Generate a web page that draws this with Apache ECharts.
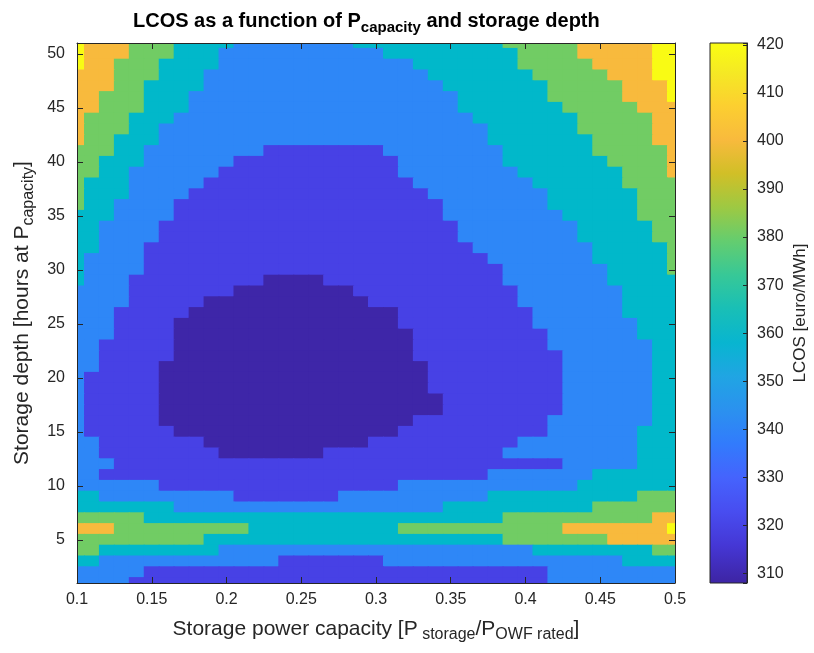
<!DOCTYPE html>
<html>
<head>
<meta charset="utf-8">
<title>LCOS as a function of Pcapacity and storage depth</title>
<script src="https://cdn.jsdelivr.net/npm/echarts@6/dist/echarts.min.js"></script>
<style>
  html, body { margin: 0; padding: 0; background: #fff; }
  #chart { width: 814px; height: 653px; }
</style>
</head>
<body>
<div id="chart"></div>
<script>
// storage power capacity [P_storage / P_OWF rated], one column each
var capacity = [0.10, 0.11, 0.12, 0.13, 0.14, 0.15, 0.16, 0.17, 0.18, 0.19, 0.20,
                0.21, 0.22, 0.23, 0.24, 0.25, 0.26, 0.27, 0.28, 0.29, 0.30,
                0.31, 0.32, 0.33, 0.34, 0.35, 0.36, 0.37, 0.38, 0.39, 0.40,
                0.41, 0.42, 0.43, 0.44, 0.45, 0.46, 0.47, 0.48, 0.49, 0.50];

// storage depth [hours at P_capacity], one row each (top row first)
var depth = [51, 50, 49, 48, 47, 46, 45, 44, 43, 42, 41, 40, 39, 38, 37, 36, 35, 34,
             33, 32, 31, 30, 29, 28, 27, 26, 25, 24, 23, 22, 21, 20, 19, 18, 17, 16,
             15, 14, 13, 12, 11, 10, 9, 8, 7, 6, 5, 4, 3, 2, 1];

// LCOS [euro/MWh] (band floor), rows follow depth
var lcos = [
  [420, 400,400,400, 380,380,380, 360,360,360,360, 340,340,340,340,340, 340,340,340, 360,360,360,360,360, 360,360,360,360,360, 380,380,380,380,380, 400,400,400,400,400, 420,420],
  [420, 400,400,400, 380,380,380, 360,360,360, 340,340,340,340,340, 340,340,340,340,340, 340, 360,360,360,360,360, 360,360,360,360, 380,380,380,380, 400,400,400,400,400, 420,420],
  [420, 400,400, 380,380,380, 360,360,360,360, 340,340,340,340,340, 340,340,340,340,340, 340,340,340, 360,360,360,360,360, 360,360, 380,380,380,380,380, 400,400,400,400, 420,420],
  [400,400,400, 380,380,380, 360,360,360, 340,340,340,340,340, 340,340,340,340,340, 340,340,340,340,340, 360,360,360,360,360, 360,360, 380,380,380,380,380, 400,400,400, 420,420],
  [400,400,400, 380,380, 360,360,360,360, 340,340,340,340,340, 340,340,340,340,340, 340,340,340,340,340, 340, 360,360,360,360,360, 360,360, 380,380,380,380,380, 400,400,400, 420],
  [400,400, 380,380,380, 360,360,360, 340,340,340,340,340, 340,340,340,340,340, 340,340,340,340,340, 340,340,340, 360,360,360,360,360, 360, 380,380,380,380,380, 400,400,400, 420],
  [400,400, 380,380,380, 360,360,360, 340,340,340,340,340, 340,340,340,340,340, 340,340,340,340,340, 340,340,340, 360,360,360,360,360, 360,360, 380,380,380,380,380, 400,400,400],
  [400, 380,380,380, 360,360,360, 340,340,340,340,340, 340,340,340,340,340, 340,340,340,340,340, 340,340,340,340,340, 360,360,360,360,360, 360,360, 380,380,380,380,380, 400,400],
  [400, 380,380,380, 360,360, 340,340,340,340,340, 340,340,340,340,340, 340,340,340,340,340, 340,340,340,340,340, 340,340, 360,360,360,360,360, 360, 380,380,380,380,380, 400,400],
  [400, 380,380, 360,360,360, 340,340,340,340,340, 340,340,340,340,340, 340,340,340,340,340, 340,340,340,340,340, 340,340, 360,360,360,360,360, 360,360, 380,380,380,380, 400,400],
  [380,380,380, 360,360, 340,340,340,340,340, 340,340,340, 320,320,320,320,320, 320,320,320, 340,340,340,340,340, 340,340,340, 360,360,360,360,360, 360, 380,380,380,380,380, 400],
  [380,380, 360,360,360, 340,340,340,340,340, 340, 320,320,320,320,320, 320,320,320,320,320, 320, 340,340,340,340,340, 340,340, 360,360,360,360,360, 360,360, 380,380,380,380, 400],
  [380,380, 360,360, 340,340,340,340,340, 340, 320,320,320,320,320, 320,320,320,320,320, 320,320, 340,340,340,340,340, 340,340,340, 360,360,360,360,360, 360,360, 380,380,380, 400],
  [380, 360,360,360, 340,340,340,340,340, 320,320,320,320,320, 320,320,320,320,320, 320,320,320,320, 340,340,340,340,340, 340,340,340, 360,360,360,360,360, 360, 380,380,380,380],
  [380, 360,360,360, 340,340,340,340, 320,320,320,320,320, 320,320,320,320,320, 320,320,320,320,320, 320, 340,340,340,340,340, 340,340,340, 360,360,360,360,360, 360, 380,380,380],
  [380, 360,360, 340,340,340,340, 320,320,320,320,320, 320,320,320,320,320, 320,320,320,320,320, 320,320,320, 340,340,340,340,340, 340,340, 360,360,360,360,360, 360, 380,380,380],
  [360,360,360, 340,340,340,340, 320,320,320,320,320, 320,320,320,320,320, 320,320,320,320,320, 320,320,320, 340,340,340,340,340, 340,340,340, 360,360,360,360,360, 380,380,380],
  [360,360, 340,340,340,340, 320,320,320,320,320, 320,320,320,320,320, 320,320,320,320,320, 320,320,320,320,320, 340,340,340,340,340, 340,340,340, 360,360,360,360,360, 380,380],
  [360,360, 340,340,340,340, 320,320,320,320,320, 320,320,320,320,320, 320,320,320,320,320, 320,320,320,320,320, 340,340,340,340,340, 340,340,340, 360,360,360,360,360, 380,380],
  [360,360, 340,340,340, 320,320,320,320,320, 320,320,320,320,320, 320,320,320,320,320, 320,320,320,320,320, 320,320, 340,340,340,340,340, 340,340,340, 360,360,360,360,360, 380],
  [360, 340,340,340,340, 320,320,320,320,320, 320,320,320,320,320, 320,320,320,320,320, 320,320,320,320,320, 320,320,320, 340,340,340,340,340, 340,340, 360,360,360,360,360, 380],
  [360, 340,340,340,340, 320,320,320,320,320, 320,320,320,320,320, 320,320,320,320,320, 320,320,320,320,320, 320,320,320,320, 340,340,340,340,340, 340,340, 360,360,360,360, 380],
  [360, 340,340,340, 320,320,320,320,320, 320,320,320,320, 310,310,310,310, 320,320,320,320,320, 320,320,320,320,320, 320,320, 340,340,340,340,340, 340,340, 360,360,360,360,360],
  [340,340,340,340, 320,320,320,320,320, 320,320, 310,310,310,310,310, 310,310,310, 320,320,320,320,320, 320,320,320,320,320, 320, 340,340,340,340,340, 340,340, 360,360,360,360],
  [340,340,340,340, 320,320,320,320,320, 310,310,310,310,310, 310,310,310,310,310, 310, 320,320,320,320,320, 320,320,320,320,320, 340,340,340,340,340, 340,340, 360,360,360,360],
  [340,340,340, 320,320,320,320,320, 310,310,310,310,310, 310,310,310,310,310, 310,310,310,310, 320,320,320,320,320, 320,320,320,320, 340,340,340,340,340, 340, 360,360,360,360],
  [340,340,340, 320,320,320,320, 310,310,310,310,310, 310,310,310,310,310, 310,310,310,310,310, 320,320,320,320,320, 320,320,320,320, 340,340,340,340,340, 340,340, 360,360,360],
  [340,340,340, 320,320,320,320, 310,310,310,310,310, 310,310,310,310,310, 310,310,310,310,310, 310, 320,320,320,320,320, 320,320,320,320, 340,340,340,340,340, 340, 360,360,360],
  [340,340, 320,320,320,320,320, 310,310,310,310,310, 310,310,310,310,310, 310,310,310,310,310, 310, 320,320,320,320,320, 320,320,320,320, 340,340,340,340,340, 340,340, 360,360],
  [340,340, 320,320,320,320,320, 310,310,310,310,310, 310,310,310,310,310, 310,310,310,310,310, 310, 320,320,320,320,320, 320,320,320,320,320, 340,340,340,340,340, 340, 360,360],
  [340,340, 320,320,320,320, 310,310,310,310,310, 310,310,310,310,310, 310,310,310,310,310, 310,310,310, 320,320,320,320,320, 320,320,320,320, 340,340,340,340,340, 340, 360,360],
  [340, 320,320,320,320,320, 310,310,310,310,310, 310,310,310,310,310, 310,310,310,310,310, 310,310,310, 320,320,320,320,320, 320,320,320,320, 340,340,340,340,340, 340, 360,360],
  [340, 320,320,320,320,320, 310,310,310,310,310, 310,310,310,310,310, 310,310,310,310,310, 310,310,310, 320,320,320,320,320, 320,320,320,320, 340,340,340,340,340, 340, 360,360],
  [340, 320,320,320,320,320, 310,310,310,310,310, 310,310,310,310,310, 310,310,310,310,310, 310,310,310,310, 320,320,320,320,320, 320,320,320, 340,340,340,340,340, 340, 360,360],
  [340, 320,320,320,320,320, 310,310,310,310,310, 310,310,310,310,310, 310,310,310,310,310, 310,310,310,310, 320,320,320,320,320, 320,320,320, 340,340,340,340,340, 340, 360,360],
  [340, 320,320,320,320,320, 310,310,310,310,310, 310,310,310,310,310, 310,310,310,310,310, 310,310, 320,320,320,320,320, 320,320,320,320, 340,340,340,340,340, 340,340, 360,360],
  [340, 320,320,320,320,320, 320, 310,310,310,310,310, 310,310,310,310,310, 310,310,310,310,310, 320,320,320,320,320, 320,320,320,320,320, 340,340,340,340,340, 340, 360,360,360],
  [340,340, 320,320,320,320,320, 320,320, 310,310,310,310,310, 310,310,310,310,310, 310, 320,320,320,320,320, 320,320,320,320,320, 340,340,340,340,340, 340,340,340, 360,360,360],
  [340,340, 320,320,320,320,320, 320,320,320, 310,310,310,310,310, 310,310, 320,320,320,320,320, 320,320,320,320,320, 320,320, 340,340,340,340,340, 340,340,340,340, 360,360,360],
  [340,340,340, 320,320,320,320,320, 320,320,320,320,320, 320,320,320,320,320, 320,320,320,320,320, 320,320,320,320,320, 320,320,320,320,320, 340,340,340,340,340, 360,360,360,360],
  [340,340, 320,320,320,320,320, 320,320,320,320,320, 320,320,320,320,320, 320,320,320,320,320, 320,320,320,320,320, 320, 340,340,340,340,340, 340,340, 360,360,360,360,360, 360],
  [340,340,340,340,340, 340, 320,320,320,320,320, 320,320,320,320,320, 320,320,320,320,320, 320, 340,340,340,340,340, 340,340,340,340,340, 340,340, 360,360,360,360,360, 360,360],
  [360,360, 340,340,340,340,340, 340,340,340,340, 320,320,320,320,320, 320,320, 340,340,340,340,340, 340,340,340,340,340, 360,360,360,360,360, 360,360,360,360,360, 380,380,380],
  [360,360,360,360,360, 360,360, 340,340,340,340,340, 340,340,340,340,340, 340,340,340,340,340, 340,340,340, 360,360,360,360,360, 360,360,360,360,360, 380,380,380,380,380, 380],
  [380,380,380,380,380, 360,360,360,360,360, 360,360,360,360,360, 360,360,360,360,360, 360,360,360,360,360, 360,360,360,360, 380,380,380,380,380, 380,380,380,380,380, 400,400],
  [400,400,400, 380,380,380,380,380, 380,380,380,380, 360,360,360,360,360, 360,360,360,360,360, 380,380,380,380,380, 380,380,380,380,380, 380, 400,400,400,400,400, 400,400, 420],
  [380,380,380,380,380, 380,380,380,380, 360,360,360,360,360, 360,360,360,360,360, 360,360,360,360,360, 360,360,360,360,360, 380,380,380,380,380, 380,380, 400,400,400,400,400],
  [380,380, 360,360,360,360,360, 360,360,360, 340,340,340,340,340, 340,340,340,340,340, 340,340,340,340,340, 340,340,340,340,340, 340, 360,360,360,360,360, 360,360,360, 380,380],
  [360,360, 340,340,340,340,340, 340,340,340,340,340, 340,340, 320,320,320,320,320, 320,320, 340,340,340,340,340, 340,340,340,340,340, 340,340,340,340,340, 340, 360,360,360,360],
  [340,340,340,340,340, 320,320,320,320,320, 320,320,320,320,320, 320,320,320,320,320, 320,320,320,320,320, 320,320,320,320,320, 320,320, 340,340,340,340,340, 340,340,340,340],
  [340,340,340,340, 320,320,320,320,320, 320,320,320,320,320, 320,320,320,320,320, 320,320,320,320,320, 320,320,320,320,320, 320,320,320, 340,340,340,340,340, 340,340,340,340]
];

// contour levels and the parula colour each filled band gets
var contourLevels = [320, 340, 360, 380, 400, 420];
var bandColors = ['#3e26a8', '#4741e5', '#2e87f7', '#01b8ca', '#71cc64', '#f8ba3d', '#f9fb14'];

// colour bar (parula) stops
var parula = [
  [0.008, '#3e26a8'], [0.070, '#4537d5'], [0.133, '#484df0'], [0.195, '#4563fd'],
  [0.258, '#327bfc'], [0.320, '#2b91ef'], [0.383, '#20a5e3'], [0.445, '#08b5d0'],
  [0.508, '#19bfb6'], [0.570, '#37c897'], [0.633, '#64cd6f'], [0.695, '#9dc943'],
  [0.758, '#d1bf27'], [0.820, '#f8ba3d'], [0.883, '#fccf30'], [0.945, '#f5e924'],
  [0.992, '#f9fb14']
];

var axisColor = '#262626';
var font = '"Liberation Sans", Arial, Helvetica, sans-serif';

var chart = echarts.init(document.getElementById('chart'));

var cells = [];
for (var r = 0; r < depth.length; r++) {
    for (var c = 0; c < capacity.length; c++) {
        cells.push([capacity[c], depth[r], lcos[r][c]]);
    }
}

var pieces = [{ lt: contourLevels[0], color: bandColors[0] }];
for (var i = 0; i < contourLevels.length; i++) {
    var p = { gte: contourLevels[i], color: bandColors[i + 1] };
    if (i + 1 < contourLevels.length) {
        p.lt = contourLevels[i + 1];
    }
    pieces.push(p);
}

function renderCell(params, api) {
    var center = api.coord([api.value(0), api.value(1)]);
    var size = api.size([0.01, 1]);
    return {
        type: 'rect',
        shape: {
            x: center[0] - size[0] / 2 - 0.5,
            y: center[1] - size[1] / 2 - 0.5,
            width: size[0] + 1,
            height: size[1] + 1
        },
        style: { fill: api.visual('color') }
    };
}

var labelStyle = { color: axisColor, fontSize: 16, fontFamily: font };
var nameRich = {
    a: { fontSize: 21, color: axisColor, fontFamily: font, lineHeight: 25 },
    s: { fontSize: 16, color: axisColor, fontFamily: font, padding: [12, 0, 0, 0] }
};
var lineStyle = { color: axisColor, width: 1 };

option = {
    animation: false,
    backgroundColor: '#ffffff',
    title: {
        text: '{b|LCOS as a function of P}{s|capacity}{b| and storage depth}',
        left: 128,
        top: 2,
        textStyle: {
            rich: {
                b: { fontSize: 20, fontWeight: 'bold', color: '#000', fontFamily: font, lineHeight: 24 },
                s: { fontSize: 15, fontWeight: 'bold', color: '#000', fontFamily: font, padding: [13, 0, 0, 0] }
            }
        }
    },
    grid: [
        { left: 77, right: 139, top: 43, bottom: 70 },
        {
            left: 710, width: 37, top: 43, bottom: 70,
            show: true,
            borderColor: axisColor,
            borderWidth: 1,
            backgroundColor: {
                type: 'linear', x: 0, y: 1, x2: 0, y2: 0,
                colorStops: parula.map(function (s) { return { offset: s[0], color: s[1] }; })
            }
        }
    ],
    xAxis: [
        {
            type: 'value', gridIndex: 0, min: 0.1, max: 0.5, interval: 0.05, z: 10,
            axisLine: { show: true, onZero: false, lineStyle: lineStyle },
            axisTick: { show: true, inside: true, length: 6, lineStyle: lineStyle },
            axisLabel: Object.assign({ margin: 9 }, labelStyle),
            splitLine: { show: false },
            name: '{a|Storage power capacity [P}{s| storage}{a|/P}{s|OWF rated}{a|]}',
            nameLocation: 'middle',
            nameGap: 32,
            nameTextStyle: { rich: nameRich }
        },
        {
            type: 'value', gridIndex: 0, position: 'top', min: 0.1, max: 0.5, interval: 0.05, z: 10,
            axisLine: { show: true, onZero: false, lineStyle: lineStyle },
            axisTick: { show: true, inside: true, length: 6, lineStyle: lineStyle },
            axisLabel: { show: false },
            splitLine: { show: false }
        },
        { type: 'value', gridIndex: 1, show: false, min: 0, max: 1 }
    ],
    yAxis: [
        {
            type: 'value', gridIndex: 0, min: 1, max: 51, splitNumber: 10, z: 10,
            axisLine: { show: true, onZero: false, lineStyle: lineStyle },
            axisTick: { show: true, inside: true, length: 6, lineStyle: lineStyle },
            axisLabel: Object.assign({
                margin: 12,
                formatter: function (v) { return v % 5 === 0 ? String(v) : ''; }
            }, labelStyle),
            splitLine: { show: false },
            name: '{a|Storage depth [hours at P}{s|capacity}{a|]}',
            nameLocation: 'middle',
            nameRotate: 90,
            nameGap: 39,
            nameTextStyle: { rich: nameRich }
        },
        {
            type: 'value', gridIndex: 0, position: 'right', min: 1, max: 51, splitNumber: 10, z: 10,
            axisLine: { show: true, onZero: false, lineStyle: lineStyle },
            axisTick: { show: true, inside: true, length: 6, lineStyle: lineStyle },
            axisLabel: { show: false },
            splitLine: { show: false }
        },
        {
            type: 'value', gridIndex: 1, position: 'right', min: 308, max: 420.4, splitNumber: 11, z: 10,
            axisLine: { show: true, onZero: false, lineStyle: lineStyle },
            axisTick: { show: true, inside: true, length: 4, lineStyle: lineStyle },
            axisLabel: Object.assign({
                margin: 10,
                formatter: function (v) { return v % 10 === 0 ? String(v) : ''; }
            }, labelStyle),
            splitLine: { show: false },
            name: 'LCOS [euro/MWh]',
            nameLocation: 'middle',
            nameRotate: 90,
            nameGap: 45,
            nameTextStyle: { color: axisColor, fontSize: 17, fontFamily: font }
        }
    ],
    visualMap: {
        type: 'piecewise',
        show: false,
        dimension: 2,
        seriesIndex: 0,
        pieces: pieces
    },
    series: [{
        name: 'LCOS',
        type: 'custom',
        xAxisIndex: 0,
        yAxisIndex: 0,
        clip: true,
        renderItem: renderCell,
        encode: { x: 0, y: 1 },
        data: cells
    }]
};

chart.setOption(option);
</script>
</body>
</html>
